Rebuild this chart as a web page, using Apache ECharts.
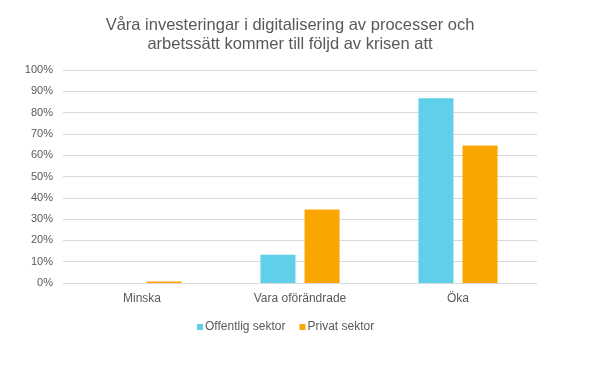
<!DOCTYPE html>
<html><head><meta charset="utf-8">
<script src="https://cdn.jsdelivr.net/npm/echarts@6/dist/echarts.min.js"></script>
<style>html,body{margin:0;padding:0;background:#fff}#c{width:600px;height:373px}</style>
</head><body><div id="c"></div>
<script>
const titleText = 'Våra investeringar i digitalisering av processer och\narbetssätt kommer till följd av krisen att';
const categories = ['Minska', 'Vara oförändrade', 'Öka'];
const seriesNames = ['Offentlig sektor', 'Privat sektor'];
const offentlig = [0, 13.3, 86.7];
const privat = [0.7, 34.5, 64.6];
const yTicks = [0, 10, 20, 30, 40, 50, 60, 70, 80, 90, 100];

const font = 'Liberation Sans, Arial, sans-serif';
const chart = echarts.init(document.getElementById('c'));
chart.setOption({
  animation: false,
  backgroundColor: '#fff',
  title: {
    text: titleText, left: 285, top: 11, textAlign: 'center',
    textStyle: {fontFamily: font, fontSize: 16.5, fontWeight: 'normal', color: '#595959', lineHeight: 19}
  },
  legend: {
    data: seriesNames, left: 192, top: 316, icon: 'rect', itemWidth: 6, itemHeight: 6, itemGap: 14,
    textStyle: {fontFamily: font, fontSize: 12, color: '#595959', padding: [0, 0, 0, -3]}
  },
  grid: {left: 63, right: 63, top: 70, bottom: 90},
  xAxis: {
    type: 'category', data: categories,
    axisLine: {show: false}, axisTick: {show: false},
    axisLabel: {fontFamily: font, fontSize: 12, color: '#595959', margin: 10}
  },
  yAxis: {
    type: 'value', min: 0, max: 100, interval: 10,
    axisLine: {show: false}, axisTick: {show: false},
    splitLine: {lineStyle: {color: '#d9d9d9', width: 1}},
    axisLabel: {fontFamily: font, fontSize: 11, color: '#595959', margin: 10,
      formatter: v => yTicks.includes(v) ? v + '%' : ''}
  },
  series: [
    {name: seriesNames[0], type: 'bar', data: offentlig, barWidth: 35, barGap: '26%', itemStyle: {color: '#5FCFEA'}},
    {name: seriesNames[1], type: 'bar', data: privat, barWidth: 35, barGap: '26%', itemStyle: {color: '#FAA500'}}
  ]
});
</script></body></html>
